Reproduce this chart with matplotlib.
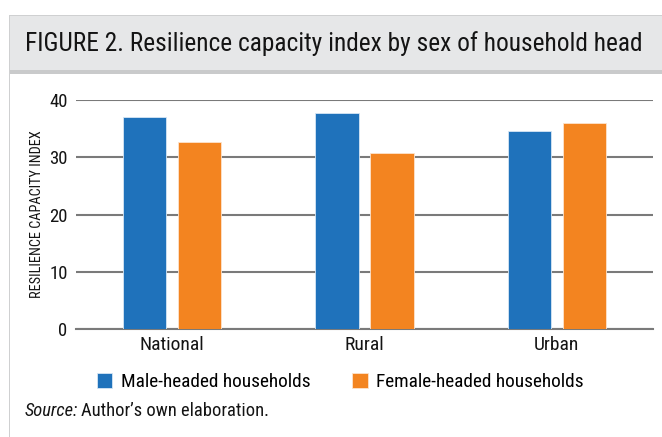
import matplotlib
matplotlib.use("Agg")
import matplotlib.pyplot as plt
from matplotlib.patches import Rectangle
import numpy as np

# data
categories = ["National", "Rural", "Urban"]
male = [37.1, 37.8, 34.6]
female = [32.6, 30.8, 35.9]
series_names = ["Male-headed households", "Female-headed households"]
yticks = [0, 10, 20, 30, 40]

BLUE = "#1f72bb"
ORANGE = "#f38420"
GRID = "#7a7a7a"
TXT = "#141414"

plt.rcParams["font.family"] = ["Roboto Condensed", "Roboto", "DejaVu Sans"]

fig = plt.figure(figsize=(6.62, 4.37), dpi=100)
W, H = 662, 437

# frame: title band, darker strip under it, left rule
fig.patches.append(Rectangle((10 / W, 1 - 70 / H), 1, 55 / H, transform=fig.transFigure,
                             facecolor="#e6e7e8", edgecolor="none", zorder=0))
fig.patches.append(Rectangle((10 / W, 1 - 74 / H), 1, 4 / H, transform=fig.transFigure,
                             facecolor="#c9cacb", edgecolor="none", zorder=0))
fig.patches.append(Rectangle((9 / W, 0), 1.2 / W, 1 - 15 / H, transform=fig.transFigure,
                             facecolor="#cfd0d1", edgecolor="none", zorder=0))
fig.patches.append(Rectangle((9 / W, 1 - 16 / H), 1, 1.2 / H, transform=fig.transFigure,
                             facecolor="#cfd0d1", edgecolor="none", zorder=0))

fig.text(25 / W, 1 - 44 / H, "FIGURE 2. Resilience capacity index by sex of household head",
         fontsize=18.3, va="center", ha="left", color=TXT)

ax = fig.add_axes([76 / W, 1 - 329 / H, 577 / W, 229 / H])
x = np.arange(len(categories))
w = 0.224
off = 0.143
b1 = ax.bar(x - off, male, w, color=BLUE, edgecolor="#d6e6f4", linewidth=0.6, zorder=3,
            label=series_names[0])
b2 = ax.bar(x + off, female, w, color=ORANGE, edgecolor="#fde3cc", linewidth=0.6, zorder=3,
            label=series_names[1])

ax.set_xlim(-0.5, 2.5)
ax.set_ylim(0, 40)
ax.set_yticks(yticks)
ax.set_xticks(x)
ax.set_xticklabels(categories, fontsize=14)
ax.tick_params(axis="y", length=0, labelsize=13.5, pad=6, colors=TXT)
ax.tick_params(axis="x", length=0, pad=5, colors=TXT)
ax.yaxis.grid(True, color=GRID, linewidth=1.5, zorder=0)
for s in ["top", "right", "left"]:
    ax.spines[s].set_visible(False)
ax.spines["bottom"].set_color(GRID)
ax.spines["bottom"].set_linewidth(1.5)
ax.set_ylabel("RESILIENCE CAPACITY INDEX", fontsize=10.3, labelpad=4, color=TXT)

fig.legend(handles=[b1, b2], loc="center left", bbox_to_anchor=(97 / W, 1 - 382 / H),
           frameon=False, ncol=2, fontsize=13.9, handlelength=0.8, handleheight=0.8,
           handletextpad=0.45, columnspacing=2.15, borderpad=0, borderaxespad=0)

src = fig.text(25 / W, 1 - 411 / H, "Source:", fontsize=13.3, style="italic",
               va="center", ha="left", color=TXT)
ax.annotate("Author\u2019s own elaboration.", xy=(1, 0.5), xycoords=src,
            xytext=(2, 0), textcoords="offset points", va="center", ha="left",
            fontsize=13.3, color=TXT, annotation_clip=False)

fig.savefig("out.png", dpi=100)
